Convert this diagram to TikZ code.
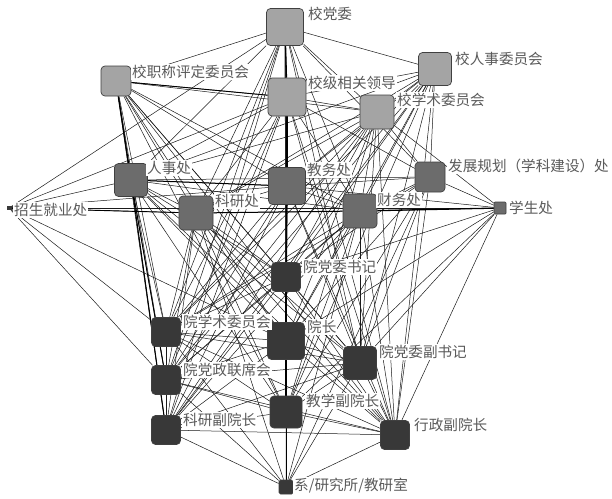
\documentclass[tikz,border=0pt]{standalone}
\usepackage{fontspec}
\newfontfamily\cjk{Noto Sans CJK SC}
\usetikzlibrary{backgrounds}
\definecolor{nlight}{HTML}{A4A4A4}
\definecolor{nmid}{HTML}{6C6C6C}
\definecolor{ndark}{HTML}{383838}
\definecolor{edgec}{HTML}{1A1A1A}
\definecolor{lblc}{HTML}{5A5A5A}
\begin{document}
\begin{tikzpicture}[x=1pt,y=-1pt,
  box/.style={draw=black!75, rounded corners=4pt, minimum size=#1, inner sep=0pt, line width=0.7pt},
  lightbox/.style={box=#1, fill=nlight},
  midbox/.style={box=#1, fill=nmid},
  darkbox/.style={box=#1, fill=ndark},
  lbl/.style={anchor=west, fill=white, inner sep=1pt, text=lblc, font={\cjk\fontsize{14.6pt}{15pt}\selectfont}},
  link/.style={draw=edgec, line width=0.5pt},
  heavy/.style={draw=black, line width=1.3pt}]
\useasboundingbox (0,0) rectangle (612,498);

% university level bodies
\node[lightbox=37] (A) at (285,27) {};
\node[lightbox=33] (B) at (435,69) {};
\node[lightbox=30] (C) at (116,81) {};
\node[lightbox=38] (D) at (287,97) {};
\node[lightbox=34] (E) at (377,112) {};
% administrative offices
\node[midbox=33] (F) at (131,180) {};
\node[midbox=37] (G) at (287,186) {};
\node[midbox=30] (H) at (430,177) {};
\node[fill=ndark, minimum width=5pt, minimum height=4pt, inner sep=0pt] (I) at (9,208) {};
\node[midbox=34] (J) at (196,213) {};
\node[midbox=34] (K) at (360,211) {};
\node[midbox=12, rounded corners=1pt] (L) at (500,208) {};
% college level
\node[darkbox=29] (M) at (286,277) {};
\node[darkbox=29] (N) at (166,332) {};
\node[darkbox=37] (O) at (286,341) {};
\node[darkbox=33] (P) at (360,363) {};
\node[darkbox=29] (Q) at (166,380) {};
\node[darkbox=32] (R) at (286,412) {};
\node[darkbox=29] (S) at (166,430) {};
\node[darkbox=29] (T) at (395,435) {};
\node[darkbox=14, rounded corners=1.5pt] (U) at (286,487) {};

% labels
\node[lbl] (lA) at (307,14) {校党委};
\node[lbl] (lB) at (454,59) {校人事委员会};
\node[lbl] (lC) at (131,72) {校职称评定委员会};
\node[lbl] (lD) at (307,83) {校级相关领导};
\node[lbl] (lE) at (396,100) {校学术委员会};
\node[lbl] (lF) at (146,168) {人事处};
\node[lbl] (lG) at (306,170) {教务处};
\node[lbl] (lH) at (447,166) {发展规划（学科建设）处};
\node[lbl] (lI) at (13,210) {招生就业处};
\node[lbl] (lJ) at (214,201) {科研处};
\node[lbl] (lK) at (376,200) {财务处};
\node[lbl] (lL) at (508,208) {学生处};
\node[lbl] (lM) at (302,267) {院党委书记};
\node[lbl] (lN) at (182,322) {院学术委员会};
\node[lbl] (lO) at (306,327) {院长};
\node[lbl] (lP) at (378,352) {院党委副书记};
\node[lbl] (lQ) at (182,370) {院党政联席会};
\node[lbl] (lR) at (305,401) {教学副院长};
\node[lbl] (lS) at (182,420) {科研副院长};
\node[lbl] (lT) at (413,425) {行政副院长};
\node[lbl] (lU) at (293,486) {系/研究所/教研室};

\begin{pgfonlayer}{background}
  \fill[white] (0,0) rectangle (612,498);
  % ties between the main bodies
  \foreach \s/\ts in {
    A/{B,C,D,E,F,G,H,J,K,M,N,O,P,Q,R,S,T},
    B/{D,E,F,G,H,J,K,M,N,O,P,Q,R,S,T},
    C/{D,E,F,G,J,K,M,N,O,P,Q,R,S,T},
    D/{E,F,G,H,J,K,M,N,O,P,Q,R,S,T},
    E/{F,G,H,J,K,M,N,O,P,Q,R,S,T},
    F/{G,H,J,K,M,N,O,P,Q,R,S,T},
    G/{H,J,K,M,N,O,P,Q,R,S,T},
    H/{K,M,N,O,P,R,T},
    J/{K,M,N,O,P,Q,R,S,T},
    K/{M,N,O,P,Q,R,S,T},
    M/{N,O,P,Q,R,S,T},
    N/{O,P,Q,R,S,T},
    O/{P,Q,R,S,T},
    P/{Q,R,S,T},
    Q/{R,S,T},
    R/{S,T},
    S/{T}}
  {\foreach \t in \ts {\draw[link] (\s) -- (\t);}}
  % peripheral units
  \foreach \t in {A,D,F,G,J,L,N,O,Q}
    {\draw[link] (I) -- (\t);}
  \foreach \t in {E,G,H,K,M,O,P,R,T}
    {\draw[link] (L) -- (\t);}
  \foreach \t in {G,J,K,M,N,O,P,Q,R,S,T,H}
    {\draw[link] (U) -- (\t);}
  % strongest ties
  \draw[heavy] (A) -- (D);
  \draw[heavy] (D) -- (G);
  \draw[heavy] (G) -- (M);
  \draw[heavy] (M) -- (O);
  \draw[heavy] (O) -- (R);
  \draw[heavy, line width=0.9pt] (R) -- (U);
  \draw[heavy] (C) -- (F);
  \draw[heavy, line width=1pt] (F) -- (G);
  \draw[heavy, line width=1pt] (J) -- (K);
  \draw[heavy] (K) -- (L);
  \draw[heavy, line width=0.9pt] (I) -- (J);
  \draw[heavy, line width=1pt] (F) -- (S);
  \draw[heavy, line width=0.9pt] (F) -- (Q);
  \draw[heavy, line width=0.9pt] (C) -- (D);
\end{pgfonlayer}
\end{tikzpicture}
\end{document}
